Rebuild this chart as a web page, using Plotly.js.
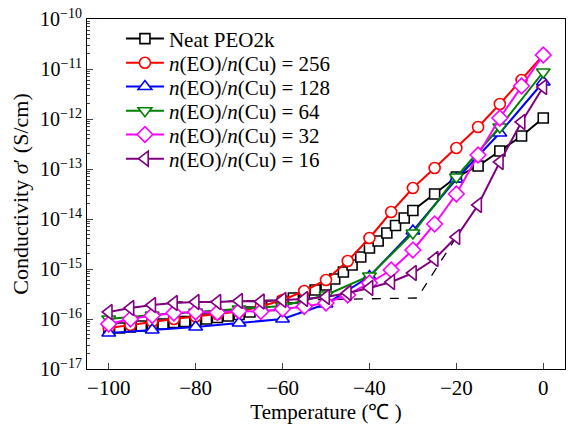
<!DOCTYPE html>
<html>
<head>
<meta charset="utf-8">
<script src="https://cdn.plot.ly/plotly-3.0.1.min.js"></script>
<style>html,body{margin:0;padding:0;background:#fff;}#chart{width:568px;height:424px;}</style>
</head>
<body>
<div id="chart"></div>
<script>
// Temperatures (°C) and log10 conductivity (S/cm)
var tNeat = [-100,-97.5,-95,-92.5,-90,-87.5,-85,-82.5,-80,-77.5,-75,-72.5,-70,-67.5,-65,-62.5,-60,-57.5,-55,-52.5,-50,
             -48,-46,-44,-42,-40,-38,-36,-34,-32,-30,-25,-20,-15,-10,-5,0];
var logNeat = [-16.20,-16.18,-16.16,-16.14,-16.12,-16.10,-16.07,-16.05,-16.03,-16.00,-15.97,-15.94,-15.91,-15.86,-15.80,-15.73,-15.65,-15.58,-15.50,-15.42,-15.32,
               -15.20,-15.06,-14.92,-14.76,-14.58,-14.44,-14.28,-14.13,-13.98,-13.83,-13.50,-13.16,-12.94,-12.64,-12.34,-11.98];

var t5 = [-100,-95,-90,-85,-80,-75,-70,-65,-60,-55,-50,-45,-40,-35,-30,-25,-20,-15,-10,-5,0];
var log256 = [-16.18,-16.12,-16.05,-16.00,-15.95,-15.90,-15.85,-15.75,-15.62,-15.44,-15.22,-14.84,-14.38,-13.86,-13.38,-12.98,-12.58,-12.16,-11.70,-11.22,-10.72];

var t10 = [-100,-90,-80,-70,-60,-50,-40,-30,-20,-10,0];
var log128 = [-16.28,-16.22,-16.16,-16.08,-16.00,-15.70,-15.15,-14.24,-13.20,-12.28,-11.26];
var log64 = [-16.00,-15.92,-15.86,-15.80,-15.74,-15.52,-15.14,-14.28,-13.16,-12.16,-11.06];

var log32 = [-16.10,-16.00,-15.93,-15.88,-15.86,-15.87,-15.84,-15.85,-15.80,-15.75,-15.68,-15.52,-15.28,-15.02,-14.62,-14.10,-13.50,-12.72,-11.98,-11.34,-10.72];
var log16 = [-15.86,-15.78,-15.72,-15.68,-15.66,-15.66,-15.64,-15.65,-15.62,-15.60,-15.56,-15.48,-15.38,-15.26,-15.08,-14.80,-14.36,-13.72,-12.86,-12.06,-11.36];

// dashed guide line
var tGuide = [-85,-29,-20];
var logGuide = [-15.66,-15.58,-14.36];

var names = ['Neat PEO2k','<i>n</i>(EO)/<i>n</i>(Cu) = 256','<i>n</i>(EO)/<i>n</i>(Cu) = 128',
             '<i>n</i>(EO)/<i>n</i>(Cu) = 64','<i>n</i>(EO)/<i>n</i>(Cu) = 32','<i>n</i>(EO)/<i>n</i>(Cu) = 16'];
var xTickVals = [-100,-80,-60,-40,-20,0];
var xTickText = ['\u2212100','\u221280','\u221260','\u221240','\u221220','0'];
var yExp = [-17,-16,-15,-14,-13,-12,-11,-10];

function pow10(a){ return a.map(function(v){ return Math.pow(10, v); }); }

var colors = ['#000000','#ff0000','#0000ff','#008000','#ff00ff','#800080'];
var symbols = ['square','circle','triangle-up','triangle-down','diamond','triangle-left'];
var sizes = [10,11,12,12,12,13];
var xs = [tNeat,t5,t10,t10,t5,t5];
var ys = [logNeat,log256,log128,log64,log32,log16];
var legendIds = ['legend','legend2','legend3','legend4','legend5','legend6'];

var traces = [{
  x: tGuide, y: pow10(logGuide), mode:'lines', showlegend:false,
  line:{color:'#000', width:1.3, dash:'dash'}, hoverinfo:'skip'
}];
for (var i=0;i<6;i++){
  traces.push({
    x: xs[i], y: pow10(ys[i]), name: names[i], mode:'lines+markers',
    legend: legendIds[i],
    line:{color:colors[i], width:2},
    marker:{symbol:symbols[i], size:sizes[i], color:'#ffffff',
            line:{color:colors[i], width:1.6}}
  });
}

var fontFam = '"Liberation Serif", "Times New Roman", Times, serif';
var rowY = [0.943,0.874,0.806,0.737,0.669,0.600];
var layout = {
  width:568, height:424,
  margin:{l:87, r:3, t:19, b:55},
  paper_bgcolor:'#fff', plot_bgcolor:'#fff',
  font:{family:fontFam, size:20, color:'#000'},
  xaxis:{
    range:[-105,5], tickvals:xTickVals, ticktext:xTickText,
    ticks:'inside', ticklen:6, tickwidth:1, showline:true, mirror:true, linecolor:'#000', linewidth:1,
    showgrid:false, zeroline:false, tickfont:{family:fontFam, size:21},
    title:{text:'Temperature (\u2103 )', font:{family:fontFam, size:21}, standoff:3}
  },
  yaxis:{
    type:'log', range:[-17,-10],
    tickvals: pow10(yExp), ticktext: yExp.map(function(e){return '10<sup>\u2212'+(-e)+'</sup>';}),
    ticks:'inside', ticklen:6, tickwidth:1, showline:true, mirror:true, linecolor:'#000', linewidth:1,
    showgrid:false, zeroline:false, tickfont:{family:fontFam, size:20},
    minor:{ticks:'inside', ticklen:3, dtick:'D1', showgrid:false},
    title:{text:'Conductivity <i>\u03c3</i>\u2032 (S/cm)', font:{family:fontFam, size:22}, standoff:5}
  },
  showlegend:true
};
for (var j=0;j<6;j++){
  layout[legendIds[j]] = {x:0.071, y:rowY[j], xanchor:'left', yanchor:'middle',
    bgcolor:'rgba(0,0,0,0)', borderwidth:0, font:{family:fontFam, size:21, color:'#000'}, itemwidth:38};
}
Plotly.newPlot('chart', traces, layout, {displayModeBar:false, staticPlot:true});
</script>
</body>
</html>
